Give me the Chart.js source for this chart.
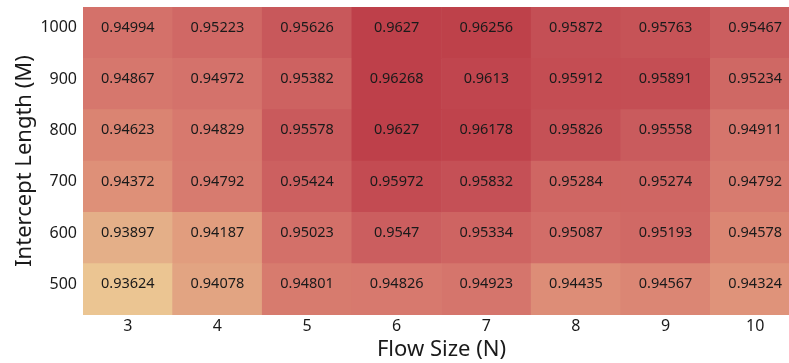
<!DOCTYPE html>
<html>
<head>
<meta charset="utf-8">
<script src="https://cdn.jsdelivr.net/npm/chart.js@4/dist/chart.umd.min.js"></script>
<style>
  html, body { margin: 0; padding: 0; background: #fff; overflow: hidden; }
  #wrap { width: 789px; height: 363px; overflow: hidden; position: relative; }
  #box { width: 800px; height: 363px; position: absolute; left: 0; top: 0; }
</style>
</head>
<body>
<div id="wrap"><div id="box"><canvas id="heat"></canvas></div></div>
<script>
// Flow size (columns) and intercept length (rows)
const flowSizes = ['3', '4', '5', '6', '7', '8', '9', '10'];
const interceptLengths = [500, 600, 700, 800, 900, 1000];

// accuracy per intercept length, one value per flow size
const row500  = [0.93624, 0.94078, 0.94801, 0.94826, 0.94923, 0.94435, 0.94567, 0.94324];
const row600  = [0.93897, 0.94187, 0.95023, 0.9547,  0.95334, 0.95087, 0.95193, 0.94578];
const row700  = [0.94372, 0.94792, 0.95424, 0.95972, 0.95832, 0.95284, 0.95274, 0.94792];
const row800  = [0.94623, 0.94829, 0.95578, 0.9627,  0.96178, 0.95826, 0.95558, 0.94911];
const row900  = [0.94867, 0.94972, 0.95382, 0.96268, 0.9613,  0.95912, 0.95891, 0.95234];
const row1000 = [0.94994, 0.95223, 0.95626, 0.9627,  0.96256, 0.95872, 0.95763, 0.95467];

const rows = [row500, row600, row700, row800, row900, row1000];

const allVals = rows.flat();
const vMin = Math.min(...allVals);
const vMax = Math.max(...allVals);

// colour ramp: light orange -> deep red
const stops = [
    [0.0,   [235, 197, 146]],
    [0.103, [228, 175, 136]],
    [0.172, [226, 164, 130]],
    [0.283, [222, 144, 120]],
    [0.518, [212, 113, 106]],
    [0.757, [200, 88, 91]],
    [1.0,   [190, 64, 74]]
];

function colorFor(v) {
    const t = (v - vMin) / (vMax - vMin);
    for (let i = 1; i < stops.length; i++) {
        if (t <= stops[i][0]) {
            const a = stops[i - 1], b = stops[i];
            const f = (t - a[0]) / (b[0] - a[0]);
            const c = a[1].map((x, k) => Math.round(x + (b[1][k] - x) * f));
            return 'rgb(' + c.join(',') + ')';
        }
    }
    return 'rgb(' + stops[stops.length - 1][1].join(',') + ')';
}

const datasets = rows.map(function(vals, r) {
    const y = interceptLengths[r];
    return {
        label: String(y),
        data: vals.map(() => [y - 50, y + 50]),
        values: vals,
        backgroundColor: vals.map(colorFor),
        borderWidth: 0,
        barPercentage: 1.0,
        categoryPercentage: 1.0,
        grouped: false
    };
});

// write the value inside each cell
const cellLabels = {
    id: 'cellLabels',
    afterDatasetsDraw(chart) {
        const ctx = chart.ctx;
        ctx.save();
        ctx.font = '14.5px "Noto Sans"';
        ctx.fillStyle = '#1a1a1a';
        ctx.textAlign = 'center';
        ctx.textBaseline = 'middle';
        chart.data.datasets.forEach(function(ds, i) {
            chart.getDatasetMeta(i).data.forEach(function(bar, j) {
                const cy = (bar.y + bar.base) / 2;
                ctx.fillText(String(ds.values[j]), bar.x, cy - 5);
            });
        });
        ctx.restore();
    }
};

new Chart(document.getElementById('heat').getContext('2d'), {
    type: 'bar',
    data: {
        labels: flowSizes,
        datasets: datasets
    },
    options: {
        responsive: true,
        maintainAspectRatio: false,
        animation: false,
        layout: { padding: { top: 7, right: 0, left: 0, bottom: 0 } },
        plugins: {
            legend: { display: false },
            tooltip: { enabled: false }
        },
        scales: {
            x: {
                grid: { display: false, drawTicks: false },
                border: { display: false },
                ticks: { color: '#1a1a1a', font: { family: 'Noto Sans', size: 16 }, padding: 2 },
                title: {
                    display: true,
                    text: 'Flow Size (N)',
                    color: '#1a1a1a',
                    font: { family: 'Noto Sans', size: 22 },
                    padding: { top: 2, bottom: 0 }
                },
                afterFit: function(scale) { scale.height = 48; }
            },
            y: {
                min: 450,
                max: 1050,
                grid: { display: false, drawTicks: false },
                border: { display: false },
                afterBuildTicks: function(scale) {
                    scale.ticks = interceptLengths.map(v => ({ value: v }));
                },
                ticks: {
                    color: '#1a1a1a',
                    font: { family: 'Noto Sans', size: 16 },
                    padding: 6,
                    labelOffset: -5,
                    callback: function(value) { return String(value); }
                },
                title: {
                    display: true,
                    text: 'Intercept Length (M)',
                    color: '#1a1a1a',
                    font: { family: 'Noto Sans', size: 22 },
                    padding: { top: 12, bottom: 0 }
                },
                afterFit: function(scale) {
                    scale.width = 83;
                    scale.paddingTop = 0;
                    scale.paddingBottom = 0;
                }
            }
        }
    },
    plugins: [cellLabels]
});
</script>
</body>
</html>
